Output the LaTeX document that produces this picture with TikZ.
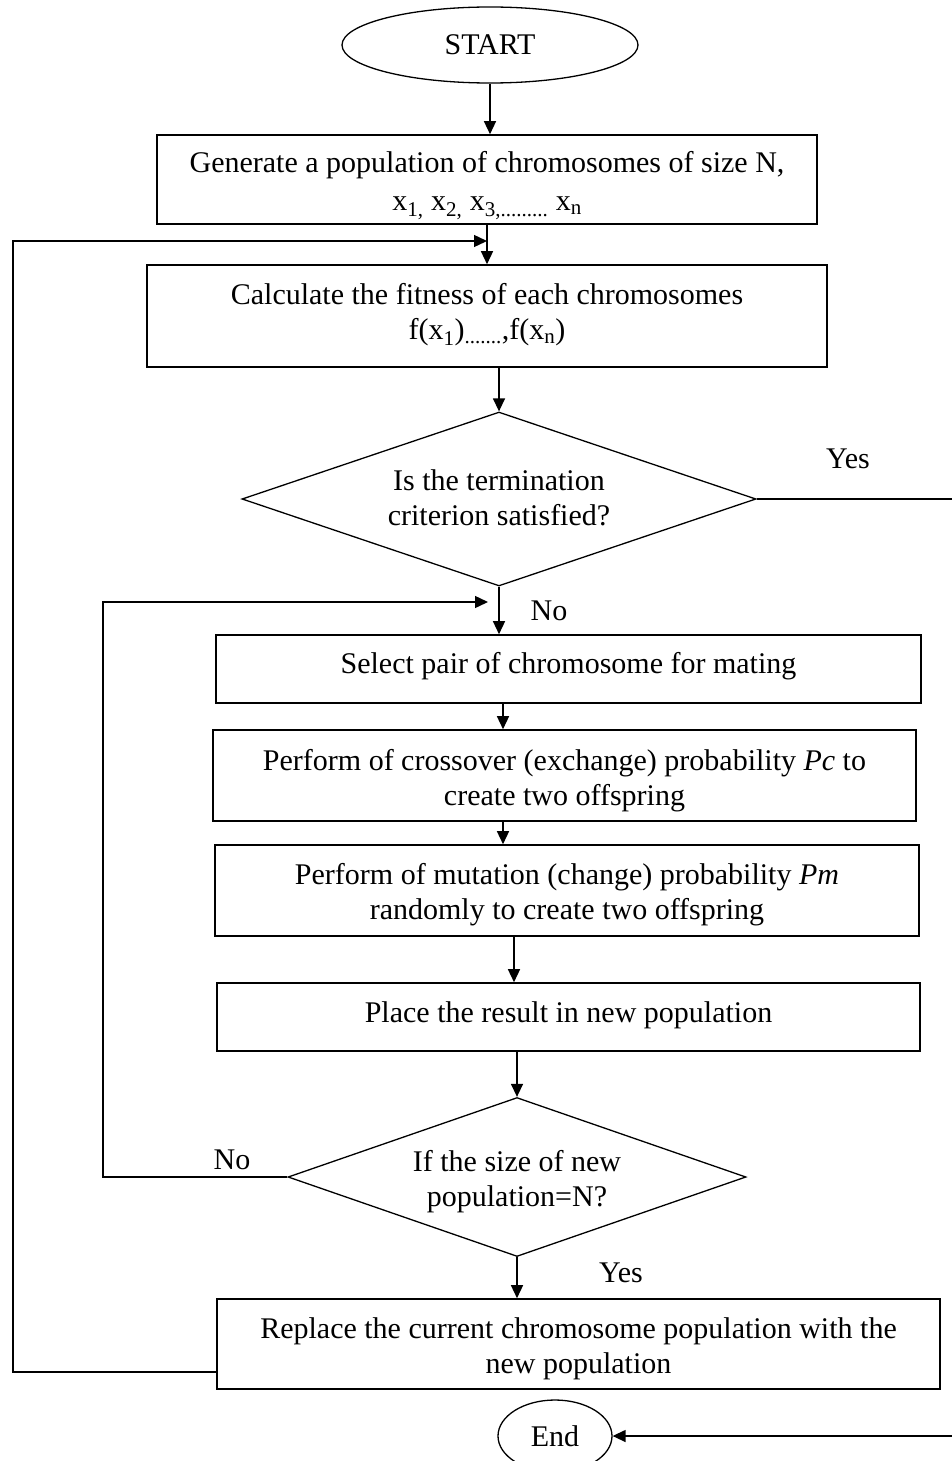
\documentclass[tikz,border=0pt]{standalone}
\usepackage{fontspec}
\setmainfont{Liberation Serif}
\usetikzlibrary{shapes.geometric,arrows.meta}
\begin{document}
\begin{tikzpicture}[x=1pt,y=-1pt,
  every node/.style={font=\fontsize{30}{35}\selectfont},
  box/.style={draw,line width=1.6pt,rectangle,inner sep=0pt},
  term/.style={draw,line width=1.3pt,ellipse,inner sep=0pt},
  decision/.style={draw,line width=1.3pt,diamond,inner sep=0pt},
  txt/.style={inner sep=0pt,align=center},
  link/.style={line width=1.4pt,-{Triangle[length=13pt,width=12pt]}},
  lbl/.style={inner sep=0pt}]
\useasboundingbox (0,0) rectangle (952,1461);
\fill[white] (0,0) rectangle (952,1461);

\node[term,minimum width=296pt,minimum height=76pt] (start) at (490,45) {START};
\node[box,minimum width=660pt,minimum height=89pt] (gen) at (487,179.5) {};
\node[txt] (gen-t) at ([yshift=-6pt]gen.center) {Generate a population of chromosomes of size N,\\[3pt] x\textsubscript{1,} x\textsubscript{2,} x\textsubscript{3,.........} x\textsubscript{n}};
\node[box,minimum width=680pt,minimum height=102pt] (fit) at (487,316) {};
\node[txt] (fit-t) at ([yshift=1pt]fit.center) {Calculate the fitness of each chromosomes\\ f(x\textsubscript{1})\textsubscript{.......},f(x\textsubscript{n})};
\node[decision,aspect=2.95,minimum width=514pt,minimum height=174pt] (term) at (499,499) {};
\node[txt] (term-t) at ([yshift=1pt]term.center) {Is the termination\\ criterion satisfied?};
\node[box,minimum width=705pt,minimum height=68pt] (sel) at (568.5,669) {};
\node[txt] (sel-t) at ([yshift=3pt]sel.center) {Select pair of chromosome for mating};
\node[box,minimum width=703pt,minimum height=91pt] (cross) at (564.5,775.5) {};
\node[txt] (cross-t) at ([yshift=-5pt]cross.center) {Perform of crossover (exchange) probability \textit{Pc} to\\ create two offspring};
\node[box,minimum width=704pt,minimum height=91pt] (mut) at (567,890.5) {};
\node[txt] (mut-t) at ([yshift=-4pt]mut.center) {Perform of mutation (change) probability \textit{Pm}\\ randomly to create two offspring};
\node[box,minimum width=703pt,minimum height=68pt] (place) at (568.5,1017) {};
\node[txt] (place-t) at ([yshift=2pt]place.center) {Place the result in new population};
\node[decision,aspect=2.88,minimum width=458pt,minimum height=159pt] (size) at (517,1177) {};
\node[txt] (size-t) at ([yshift=-5pt]size.center) {If the size of new\\ population=N?};
\node[box,minimum width=723pt,minimum height=90pt] (repl) at (578.5,1344) {};
\node[txt] (repl-t) at ([yshift=-5pt]repl.center) {Replace the current chromosome population with the\\ new population};
\node[term,minimum width=114pt,minimum height=72pt] (end) at (555,1436) {End};

\node[lbl] (yes1) at (848,459) {Yes};
\node[lbl] (no1) at (549,611) {No};
\node[lbl] (no2) at (232,1160) {No};
\node[lbl] (yes2) at (621,1273) {Yes};

\coordinate (tipA) at (487,241);
\coordinate (tipB) at (488,602);
\coordinate (cA) at (503,0);
\coordinate (cB) at (514,0);

\draw[link] (start.south) -- (start.south |- gen.north);
\draw[link] (gen.south) -- (gen.south |- fit.north);
\draw[link] (fit.south -| term.north) -- (term.north);
\draw[link] (term.south) -- (sel.north -| term.south);
\draw[link] (sel.south -| cA) -- (cross.north -| cA);
\draw[link] (cross.south -| cA) -- (mut.north -| cA);
\draw[link] (mut.south -| cB) -- (place.north -| cB);
\draw[link] (place.south -| size.north) -- (size.north);
\draw[link] (size.south) -- (repl.north -| size.south);
\draw[link] (size.west) -- (103,1177) -- (103,602) -- (tipB);
\draw[link] ([yshift=-28pt]repl.west) -- (13,1372) -- (13,241) -- (tipA);
\draw[link] (term.east) -- (957,499) -- (957,1436) -- (end.east);
\end{tikzpicture}
\end{document}
